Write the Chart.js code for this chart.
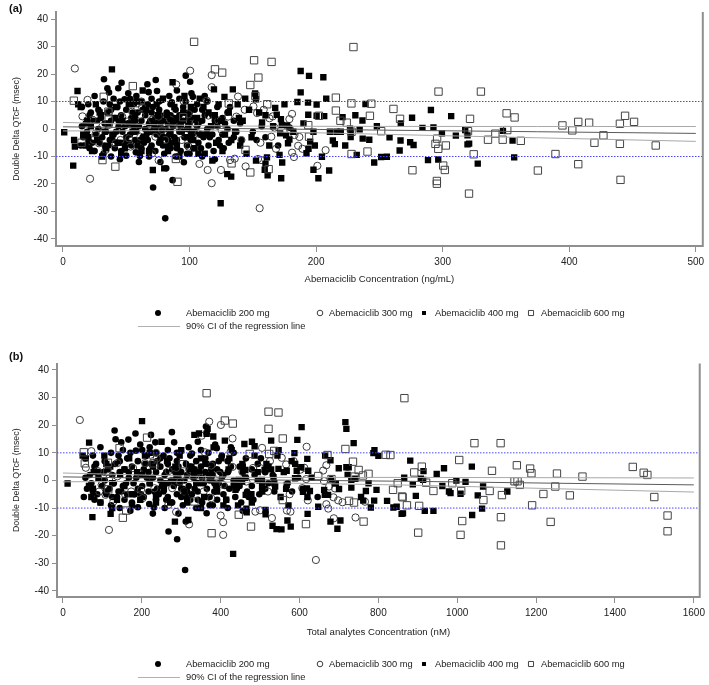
<!DOCTYPE html>
<html>
<head>
<meta charset="utf-8">
<script src="https://cdn.jsdelivr.net/npm/chart.js@4.4.1/dist/chart.umd.min.js"></script>
<style>
  html, body { margin: 0; padding: 0; background: #fff; }
  body { width: 709px; height: 685px; position: relative; overflow: hidden; font-family: "Liberation Sans", Arial, sans-serif; }
  .panel { position: absolute; left: 0; width: 709px; height: 340px; }
  .tag { position: absolute; font-weight: bold; font-size: 11px; color: #111; }
</style>
</head>
<body>
<div class="panel" style="top:0"><canvas id="chartA"></canvas></div>
<div class="panel" style="top:345px"><canvas id="chartB"></canvas></div>
<div class="tag" style="left:9px;top:2px">(a)</div>
<div class="tag" style="left:9px;top:350px">(b)</div>
<script>
// ---- shared ticks / labels ----
const yTicks = [-40, -30, -20, -10, 0, 10, 20, 30, 40];
const xTicksA = [0, 100, 200, 300, 400, 500];
const xTicksB = [0, 200, 400, 600, 800, 1000, 1200, 1400, 1600];
const legendNames = ['Abemaciclib 200 mg', 'Abemaciclib 300 mg', 'Abemaciclib 400 mg', 'Abemaciclib 600 mg'];
const ciLabel = '90% CI of the regression line';
const refLevels = [10, -10];

// ---- panel (a): Abemaciclib concentration (ng/mL) vs ddQTcF ----
const a200 = [
  [15,8],[15,1],[16,-3],[14,-6],[20,9],[21,5],[19,-1],[20,-4],[21,-7],[25,12],[24,3],[26,-2],[25,-8],
  [28,7],[28,0],[29,-5],[32.4,18.1],[32,10],[33,2],[31,-3],[32,-9],[35.1,14.8],[35,6],[34,-1],[36,-6],
  [36.4,13.3],[37,9],[38,3],[37,-4],[38,-10],[40,11],[41,4],[40,-2],[41,-7],[43.7,14.8],[43,8],[44,1],[43,-5],
  [46.3,16.8],[48.7,10.8],[46,5],[47,-1],[46,-8],[51.6,13],[50,7],[51,2],[50,-3],[50,-9.7],[53,11],[54,4],[53,-2],[54,-6],
  [56,9],[56,1],[57,-4],[57.6,-8.5],[58,12],[59,6],[58,-1],[60.8,-9.8],[62,10],[62,3],[63,-3],[62,-7],
  [65,8],[65,5],[65,0],[64,-5],[66.7,16.3],[67.7,13.4],[67,9],[68,2],[67,-4],[68,-10],
  [70,11],[70,6],[70,-1],[70,-6],[71.2,-21.3],[73.3,17.8],[74.3,13.8],[73,4],[74,-2],[73,-8],
  [76,10],[76,7],[77,1],[76,-5],[77,-12],[78.7,10.6],[79,3],[79,-3],[80,-9],[81.6,-14.3],
  [80.8,-32.5],[82,6],[81,0],[82,-6],[84,12],[84,4],[84,-2],[85,-7],[86,9.7],[87,1],[86,-5],[86.6,-18.6],
  [89,7],[89,2],[90,-4],[89,-10],[92,11],[92,5],[92,-1],[93,-8],[95,8],[95,3],[96,-3],[95.5,-12.1],
  [97,19.4],[97,10],[98,0],[98,-6],[100.5,17.2],[101.5,13],[100,6],[100,2],[101,-4],[100,-9],
  [102.6,11.7],[103,4],[104,-1],[103,-7],[106,9],[106,1],[107,-5],[110,7],[110,3],[111,-3],[110,-10],
  [114,10],[114,0],[115,-6],[118,5],[118,-2],[119,-8],[122,8],[122,1],[123,-4],[126,4],[126,-2],[127,-7],
  [130,6],[130,0],[131,-5],[135,3],[135,-3],[140,2],[141,-4],[150,-1],[153,-4],[157,1],[160,-3],[170,-6],[179,0.5],
  [75,3],[78,-1],[83,2],[88,-3],[91,3],[94,-1],[99,4],[102,-2],[105,3],[108,-2],[85,5],[80,-3],[72,0],[69,3],
  [60,1],[55,6],[48,-5],[44,3],[39,-4],[30,4],[23,-5],[18,2],
  [22,6],[27,3],[33,-6],[38,7],[42,-1],[45,10],[49,1],[52,-5],[57,3],[61,-4],[63,7],[66,-2],[69,-7],[71,8],
  [74,0],[77,5],[79,-6],[83,-4],[85,9],[88,4],[90,-7],[93,1],[96,6],[98,-9],[101,-1],[104,7],[107,2],[109,-7],
  [112,5],[116,-3],[120,3],[124,-6],[128,2],[132,8],[137,-1],[112,12],[90,14],[60,-12],[45,-11],[120,-11]
];
const a300 = [
  [9.4,22],[21.4,-18.1],[19.4,10.6],[15.4,4.6],[23.3,3.4],[25.9,-1.6],[28.5,-5.2],[24.1,-4],[36.4,6.3],
  [62,10],[61.2,-2.8],[53.4,-6.4],[75.6,-11.4],[70.4,-8.9],[100.5,21.2],[89.5,16.2],[95.2,10.2],[99.2,5.4],
  [104.4,2.1],[107.1,-1.6],[99.2,-6.4],[107.8,-12.7],[114.3,-14.9],[117.5,-19.7],[124.8,-14.9],[117.5,19.6],
  [117.5,15.2],[113.6,10.3],[114.9,4.9],[122.7,3.1],[125.3,-0.4],[130.5,4.5],[137,4.5],[138.3,11.8],[143.6,7],
  [141,-4],[135.7,-10.8],[144.3,-13.6],[132,-11.3],[46.8,4.5],[50.8,2.7],[54.7,6.3],[58.6,9.3],[62.5,8],[61.2,5.1],
  [70.4,3.4],[75.6,4.5],[78.2,-0.4],[80.8,-4],[73,-2.8],[84.7,3.4],[91.3,0.9],[93.9,-4],[33.7,-7.6],[41.6,-5.2],
  [45.5,-4],[52.1,-3.4],[36.4,1.5],[31.1,0.9],[150.5,8.2],[153.4,5.8],[158.6,7],[163.1,3.9],[165.7,4.6],[167.2,0.5],
  [164.6,-2.8],[168.3,-7.2],[156,-5],[154.1,-10.9],[156.5,-11.3],[178.9,3.6],[181,5.5],[179.4,-0.2],[182.9,-2.2],
  [186.8,-2.9],[185.8,-6.1],[189.2,-7.2],[181,-8.6],[182.5,-10.2],[207.5,-7.7],[201,-13.4],[155.4,-28.8]
];
const a400 = [
  [1,-1.2],[8.1,-13.3],[9.4,-6.4],[8.8,-4],[11.5,13.8],[12,9],[14,8],[16,-2],[18,-6],[19,3],[22,1],[23,-8],
  [26,9],[27,-4],[30,5],[31,-10],[34,-7],[38.7,21.7],[36,2],[39,-2],[42,8],[44,-5],[47,3],[49,-7],[52,9],[55,-1],
  [57,5],[59,-6],[63,14],[64,-3],[66,7],[68,-8],[71,-14.9],[72,2],[74,9],[77,-4],[80,-14.3],[82,5],[85,-1],
  [86.6,17],[88,8],[90,-6],[93,2],[96,12],[98,-3],[101,8],[104,-7],[106,4],[108,11],[110,-2],[112,-9],[115,6],
  [117,1],[118,-11.5],[119.3,14.4],[121,-5],[123,9],[124.6,-27],[125,3],[127.6,11.7],[128,-2],[129.8,-16.4],
  [131,6],[132.9,-17.3],[134.2,14.4],[136,-1],[138,9],[140,-6],[142,3],[145,-9],[147,7],
  [152.5,-11.5],[151.8,12.9],[152.5,10.8],[157.3,2.4],[160,5],[159.4,-14.8],[160,-12.6],[161.2,-10.3],[161.7,-16.8],
  [167.7,7.7],[168.9,5.2],[171.1,-9.4],[171.6,-1.6],[172.2,3.6],[172.4,-17.9],[172.9,1.5],[173.2,-12.2],[176.3,-2.3],
  [177.1,1.3],[177.8,-5.2],[178.9,-3.8],[185.2,9.8],[187.8,21.1],[187.8,13.3],[192.4,-8.8],[193.6,9.6],[193.8,5.2],
  [194,-7.2],[194.4,19.3],[195.3,-4.6],[197.9,-1],[197.9,-14.8],[200.4,8.9],[200.4,4.8],[201.8,-17.9],[204.6,-10.1],
  [205.7,18.8],[206.4,4.7],[210.3,-15.1],[210.9,-1],[213.2,-4.2],[214.8,-5.5],[216.1,-1],[219.5,-1],[220.9,4.3],
  [226.8,0.1],[227.3,-1.1],[227.3,-2.9],[232.1,-9.4],[234.4,-0.1],[236.6,3.1],[236.8,-3.5],[239,9.1],[242,-3.9],
  [245.9,-12.2],[251.4,-10.2],[255.9,-10.1],[266,-7.8],[266.7,-4.2],[266.9,2],[274.3,-4.8],[275.8,4.1],[277,-5.8],
  [284,0.4],[288.4,-11.3],[290.7,6.9],[292.7,0.6],[296.5,-11.1],[299.4,-1.6],[306.7,4.7],[310.4,-2.4],[317.8,-0.4],
  [319.6,-2.3],[319.6,-5.6],[320.9,-5.3],[327.7,-12.6],[347.6,-0.7],[355.2,-4.2],[356.5,-10.3],
  [20,-3],[29,6],[33,-1],[41,4],[46,-9],[53,2],[58,10],[62,-8],[67,-1],[75,5],[79,11],[83,-8],[87,3],[92,-10],
  [95,6],[99,1],[103,-4],[107,-9],[111,8],[114,-2],[120,5],[126,-8],[133,-4],[139,4],[144,11],[149,-3],[155,6],
  [163,-6],[166,1],[175,9],[182,-1],[190,2],[199,-6],[208,11],[223,-6],[231,5],[248,1],[258,-3]
];
const a600 = [
  [8.6,10.3],[14.7,-5],[32.2,11.7],[35.9,6.3],[31.2,-11.3],[41.4,-13.7],[36.1,3.4],[55.2,15.6],[89.2,-10.9],
  [90.5,-19.2],[95,4.3],[103.6,31.7],[120.1,21.7],[125.8,20.5],[131,9.3],[133.2,-12.5],[144.2,-7.6],[148,16],
  [151,25],[152,12],[154.4,18.7],[164.8,24.4],[161.4,9],[162.5,-14.6],[148,-15.8],[193.8,1.4],[194.4,-2.8],
  [202.2,4.8],[215.6,11.4],[215.6,6.7],[219.2,3],[224.2,2.3],[227.9,9.3],[228,-1],[228,-9.1],[229.5,29.8],
  [240.6,-8.2],[242.5,4.8],[243.6,9.2],[251.4,-0.8],[261.1,7.3],[266.3,3.7],[276.1,-15],[294.3,-5.4],[295.4,-18.9],
  [295.4,-19.9],[295.6,-3.5],[296.5,-7.2],[296.7,13.6],[300.4,-13.3],[301.7,-14.9],[302.5,-6],[320,-0.8],
  [320.8,-23.5],[321.6,3.7],[324.5,-9.2],[330.2,13.6],[335.8,-3.9],[341.6,-1.7],[347.4,-3.9],[350.5,5.7],
  [351,-0.4],[356.8,4.2],[361.7,-4.3],[375.2,-15.1],[389.1,-9.1],[394.6,1.3],[402.4,-0.5],[407.1,2.6],
  [407.1,-12.8],[415.7,2.3],[419.9,-5],[427,-2.3],[440,1.9],[440,-5.4],[440.5,-18.5],[444.1,4.8],[451.2,2.6],[468.3,-6]
];
const regXA = [0, 100, 150, 250, 375, 500];
const regMidA = [0.8, 0.3, 0.1, -0.4, -1.0, -1.6];
const ciUpA = [2.4, 1.3, 1.05, 0.95, 0.9, 0.9];
const ciLoA = [-0.7, -0.6, -0.9, -1.9, -3.2, -4.5];

// ---- panel (b): total analytes concentration (nM) vs ddQTcF ----
const b200 = [
  [57,8],[57,1],[61,-3],[53,-6],[76,9],[80,5],[72,-1],[76,-4],[80,-7],[95,12],[91,3],[99,-2],[95,-8],
  [106,7],[106,0],[110,-5],[131,18.1],[122,10],[125,2],[118,-3],[122,-9],[133.5,14.9],[133,6],[129,-1],[137,-6],
  [147.8,13.8],[141,9],[144,3],[141,-4],[144,-10],[152,11],[156,4],[152,-2],[156,-7],[166,14.8],[163,8],[167,1],[163,-5],
  [183.9,17],[185,10.8],[175,5],[179,-1],[175,-8],[196,13],[190,7],[194,2],[190,-3],[190,-9.7],[201,11],[205,4],[201,-2],[205,-6],
  [213,9],[213,1],[217,-4],[219,-8.5],[220,12],[224,6],[220,-1],[231,-9.8],[236,10],[236,3],[239,-3],[236,-7],
  [247,8],[247,5],[247,0],[243,-5],[223.3,16.5],[234.3,13.8],[255,9],[258,2],[255,-4],[258,-10],
  [266,11],[266,6],[266,-1],[266,-6],[289.6,-21.3],[276.3,17.5],[282,13.8],[277,4],[281,-2],[277,-8],
  [289,10],[289,7],[293,1],[289,-5],[293,-12],[299,10.6],[300,3],[300,-3],[304,-9],[311.5,-14.9],
  [309.8,-32.4],[312,6],[308,0],[312,-6],[319,12],[319,4],[319,-2],[323,-7],[327,9.7],[331,1],[327,-5],[267.8,-18.5],
  [338,7],[338,2],[342,-4],[338,-10],[350,11],[350,5],[350,-1],[353,-8],[361,8],[361,3],[365,-3],[364.4,-11.9],
  [362.7,19.5],[369,10],[372,0],[372,-6],[364.4,17.1],[386,13],[380,6],[380,2],[384,-4],[380,-9],
  [390,11.7],[391,4],[395,-1],[391,-7],[403,9],[403,1],[407,-5],[418,7],[418,3],[422,-3],[418,-10],
  [433,10],[433,0],[437,-6],[448,5],[448,-2],[452,-8],[464,8],[464,1],[467,-4],[479,4],[479,-2],[483,-7],
  [494,6],[494,0],[498,-5],[513,3],[513,-3],[532,2],[536,-4],[570,-1],[581,-4],[597,1],[608,-3],[646,-6],[680,0.5],
  [285,3],[296,-1],[315,2],[334,-3],[346,3],[357,-1],[376,4],[388,-2],[399,3],[410,-2],[323,5],[304,-3],[274,0],[262,3],
  [228,1],[209,6],[182,-5],[167,3],[148,-4],[114,4],[87,-5],[68,2],
  [84,6],[103,3],[125,-6],[144,7],[160,-1],[171,10],[186,1],[198,-5],[217,3],[232,-4],[239,7],[251,-2],[262,-7],[270,8],
  [281,0],[293,5],[300,-6],[315,-4],[323,9],[334,4],[342,-7],[353,1],[365,6],[372,-9],[384,-1],[395,7],[407,2],[414,-7],
  [426,5],[441,-3],[456,3],[471,-6],[486,2],[502,8],[521,-1],[426,12],[342,14],[228,-12],[171,-11],[456,-11]
];
const b300 = [
  [42.8,21.9],[116.7,-17.9],[72,10.6],[58,4.6],[88,3.4],[98,-1.6],[108,-5.2],[92,-4],[138,6.3],
  [236,10],[232,-2.8],[202,-6.4],[287,-11.4],[267,-8.9],[371,21.3],[351.8,16.2],[360,10.2],[376,5.4],
  [396,2.1],[406,-1.6],[376,-6.4],[400,-12.7],[319.9,-15.9],[406.4,-19.7],[406.4,-15.1],[400.5,20.1],
  [430,15.2],[425,10.3],[430,4.9],[455,3.1],[465,-0.4],[482,4.5],[500,4.5],[505,11.8],[525,7],
  [520,-4],[500,-10.8],[530,-13.6],[488,-11.3],[178,4.5],[193,2.7],[208,6.3],[222,9.3],[238,8],[233,5.1],
  [268,3.4],[287,4.5],[297,-0.4],[307,-4],[277,-2.8],[322,3.4],[347,0.9],[357,-4],[128,-7.6],[158,-5.2],
  [173,-4],[198,-3.4],[138,1.5],[118,0.9],[555,8.2],[566,5.8],[585,7],[602,3.9],[612,4.6],[617,0.5],
  [607,-2.8],[621,-7.2],[575,-5],[568,-10.9],[577,-11.3],[660,3.6],[668,5.5],[662,-0.2],[675,-2.2],
  [690,-2.9],[686,-6.1],[698,-7.2],[668,-8.6],[673,-10.2],[766,-7.7],[742,-13.4],[641.5,-28.8],
  [618,12.2],[709,-7.9],[687,-13.7]
];
const b400 = [
  [11.8,-1.1],[74.7,-13.3],[66.3,13.7],[120.9,-12.1],[200.6,21.5],[333.3,16.5],[364.4,16.9],[366.9,18.7],
  [381.2,15.9],[410.6,14.4],[431.6,-26.6],
  [50,9],[58,8],[66,-2],[72,-6],[78,3],[90,1],[95,-8],[105,9],[110,-4],[120,5],[125,-10],[137,-7],[145,2],
  [156,-2],[168,8],[176,-5],[188,3],[196,-7],[208,9],[220,-1],[228,5],[236,-6],[250,14],[256,-3],[264,7],
  [272,-8],[284,-14.9],[288,2],[296,9],[308,-4],[318,-14.3],[326,5],[338,-1],[345,17],[350,8],[358,-6],
  [370,2],[382,12],[390,-3],[402,8],[414,-7],[420,4],[428,11],[436,-2],[444,-9],[455,6],[462,1],[466,-11.5],
  [478,-5],[486,9],[494,3],[505,-2],[516,6],[528,14.4],[536,-1],[544,9],[552,-6],[560,3],[572,-9],[580,7],
  [605.3,19.3],[716.3,21.1],[718.8,18.7],[594.4,14.7],[737.3,13.5],[460.1,13.2],[479.4,14],[486.1,12.4],
  [587,9.9],[619.7,7.8],[678.5,7.3],[787.4,9.9],[800,8.9],[699.5,4.4],[718.8,4.8],[724.7,4.8],[604.5,4.8],
  [622.1,3.5],[567.5,3.5],[546.6,4.2],[592.8,3.5],[567.5,-1.6],[608.7,-4.1],[618.8,-2.9],[626.3,-3.8],
  [662.4,-3.4],[664.1,-5.2],[672.5,-5.2],[700.2,-3.1],[689.4,-1],[731.4,0.2],[731.4,-2.6],[741.5,0.6],
  [775,-1],[795.2,-3.4],[768.3,-3.8],[761.6,-7.3],[789.3,-7.3],[822,-7.4],[780.9,-9.8],[838,-9.8],[846.4,-9.5],
  [862.4,-11.9],[647.4,-9.5],[620.5,-12.1],[678.5,-14.9],[703.7,-14.5],[696.1,-17.5],[531.5,-16.4],
  [541.6,-17.6],[554.2,-17.7],[569.3,-14.5],[577.7,-16.7],[513.9,-12.3],[513.9,-10.7],[465.2,-10.2],
  [588.7,0.8],[462.6,3.8],[445.9,0.2],[454.3,-0.4],[437.5,-3.4],[463.5,-5.2],[504.6,0.2],[511.3,3.8],
  [521.4,5.1],[534,1.2],[538.2,-2.2],
  [880.8,7.2],[914.4,3.4],[907.6,0.6],[913.5,0.2],[887.3,-1.4],[865.5,1],[947.9,2.4],[966.4,4.4],[962.2,-2],
  [979,-4],[983,-4.6],[997.8,0],[1008.4,-4.8],[1021,-0.5],[1037,5],[1052,-5.4],[1065.5,-2.2],[1127,-4],
  [1037.8,-12.5],[1063,-10.2],[895,-5.6],[858.9,-12.1],[917.7,-11],[939.6,-11],
  [76,-3],[110,6],[125,-1],[156,4],[175,-9],[201,2],[220,10],[236,-8],[255,-1],[285,5],[300,11],[315,-8],
  [331,3],[350,-10],[361,6],[376,1],[391,-4],[407,-9],[422,8],[433,-2],[456,5],[479,-8],[505,-4],[528,4],
  [547,11],[566,-3],[589,6],[620,-6],[631,1],[665,9],[692,-1],[722,2],[756,-6],[790,11]
];
const b600 = [
  [52.9,10.2],[55.4,6.2],[114,6.4],[112.5,3.2],[115,-3.2],[143.6,11.7],[151.9,-13.5],[160.4,-10.9],[213.3,15.5],
  [230,6.2],[304,5.9],[333.3,-7.6],[364.4,31.6],[377,-19.1],[410.6,21.7],[430.7,20.6],
  [445.9,-12.4],[477,-16.7],[473.6,9.6],[521.4,24.9],[546.6,24.6],[521.4,18.7],[557.5,15.2],[535.7,10.7],
  [523.1,9.6],[557.5,-7.1],[616.3,-15.8],[647.4,1.6],[670.9,9.2],[681,0.5],[716.3,11.4],[735.6,6.8],[739.8,1.4],
  [749.9,3.8],[760.8,1.8],[775,2.4],[762.5,-14.9],[725.6,-7.4],[738.2,-8],[818.8,9.3],[830.5,9.2],[837.2,-3.4],
  [849,-1],[860,-5.8],[866,29.8],
  [861.5,-6.1],[872.4,-9],[901,-18.9],[903.4,-9.2],[890.9,2.9],[910.2,5],[921.1,-0.8],[939.6,-3.8],[987.4,-1],
  [1005,7.4],[1010,-3.8],[1012.6,-14.7],[1008.4,-19.7],[1043.6,13.5],[1066.3,-7.1],[1088.1,3.5],[1082.2,-3.8],
  [1110,13.5],[1113.3,-5.3],[1110.8,-13.3],[1110.8,-23.5],[1145.3,-0.3],[1152.9,-0.3],[1158.7,-1.6],
  [1151.2,5.5],[1184.8,4.3],[1188.2,2.6],[1189.9,-9],[1218.5,-4.9],[1236.9,-15],[1248.7,-2.2],[1252.9,2.5],
  [1285.6,-5.4],[1317.6,1.4],[1445.2,4.9],[1472.9,2.8],[1482.2,2],[1499.8,-6],[1533.4,-12.7],[1533.4,-18.4]
];
const regXB = [0, 250, 500, 875, 1250, 1600];
const regMidB = [1.3, 0.8, 0.2, -0.3, -1.0, -1.6];
const ciUpB = [2.7, 1.8, 1.1, 1.1, 1.0, 0.9];
const ciLoB = [-0.5, -0.3, -0.8, -1.7, -3.0, -4.2];

// ---- styling ----
const FONT = '"Liberation Sans", Arial, sans-serif';
const axisGray = '#8f8f8f';
const textCol = '#222';
Chart.defaults.font.family = FONT;

const pairs = arr => arr.map(([x, y]) => ({ x, y }));
const zipXY = (xs, ys) => xs.map((x, i) => ({ x, y: ys[i] }));

const markerStyles = [
  { pointStyle: 'circle', pointRadius: 3.3, backgroundColor: '#000', borderColor: '#000', borderWidth: 0, legendR: 3 },
  { pointStyle: 'circle', pointRadius: 3.6, backgroundColor: 'rgba(0,0,0,0)', borderColor: '#3c3c3c', borderWidth: 1, legendR: 2.8 },
  { pointStyle: 'rect', pointRadius: 4.5, backgroundColor: '#000', borderColor: '#000', borderWidth: 0, legendR: 2.8 },
  { pointStyle: 'rect', pointRadius: 5.2, backgroundColor: 'rgba(0,0,0,0)', borderColor: '#444', borderWidth: 1, legendR: 3.6 }
];
const legendMarkX = [158, 320, 424, 531];
const legendTextX = [186, 329, 435, 541];

// right frame line + two-row legend under the axis
const frameLegend = {
  id: 'frameLegend',
  afterDraw(chart) {
    const { ctx, chartArea: ca } = chart;
    ctx.save();
    ctx.strokeStyle = axisGray;
    ctx.lineWidth = 2;
    ctx.beginPath();
    ctx.moveTo(ca.right, ca.top);
    ctx.lineTo(ca.right, ca.bottom + 1);
    ctx.stroke();

    const y1 = ca.bottom + 67, y2 = ca.bottom + 80.5;
    ctx.font = '9.3px ' + FONT;
    ctx.textBaseline = 'middle';
    ctx.textAlign = 'left';
    legendNames.forEach((name, i) => {
      const m = markerStyles[i];
      ctx.fillStyle = m.backgroundColor;
      ctx.strokeStyle = m.borderColor;
      ctx.lineWidth = m.borderWidth || 1;
      Chart.helpers.drawPoint(ctx, { pointStyle: m.pointStyle, radius: m.legendR, borderWidth: m.borderWidth, rotation: 0 }, legendMarkX[i], y1);
      ctx.fillStyle = textCol;
      ctx.fillText(name, legendTextX[i], y1);
    });
    ctx.strokeStyle = '#b0b0b0';
    ctx.lineWidth = 1;
    ctx.beginPath();
    ctx.moveTo(138, y2);
    ctx.lineTo(180, y2);
    ctx.stroke();
    ctx.fillStyle = textCol;
    ctx.fillText(ciLabel, 186, y2);
    ctx.restore();
  }
};

function makeChart(id, cfg) {
  const groups = [cfg.g200, cfg.g300, cfg.g400, cfg.g600];
  const datasets = [];
  // reference lines at +/-10 msec
  refLevels.forEach(level => {
    datasets.push({
      type: 'line', data: [{ x: cfg.xMin, y: level }, { x: cfg.xMax, y: level }],
      borderColor: '#4646ff', borderWidth: 1, borderDash: [1.5, 1.5], pointRadius: 0, order: 0
    });
  });
  // regression line and its 90% CI
  datasets.push({ type: 'line', data: zipXY(cfg.regX, cfg.regMid), borderColor: '#5a5a5a', borderWidth: 1, pointRadius: 0, order: 0 });
  [cfg.ciUp, cfg.ciLo].forEach(ci => {
    datasets.push({ type: 'line', data: zipXY(cfg.regX, ci), borderColor: '#a8a8a8', borderWidth: 1, pointRadius: 0,
      cubicInterpolationMode: 'monotone', order: 0 });
  });
  groups.forEach((g, i) => {
    const m = markerStyles[i];
    datasets.push({
      type: 'scatter', label: legendNames[i], data: pairs(g),
      pointStyle: m.pointStyle, pointRadius: m.pointRadius,
      backgroundColor: m.backgroundColor, borderColor: m.borderColor, borderWidth: m.borderWidth,
      order: 4 - i
    });
  });

  return new Chart(document.getElementById(id), {
    type: 'scatter',
    data: { datasets },
    plugins: [frameLegend],
    options: {
      responsive: true,
      maintainAspectRatio: false,
      animation: false,
      events: [],
      layout: { padding: cfg.padding },
      plugins: { legend: { display: false }, tooltip: { enabled: false } },
      scales: {
        x: {
          type: 'linear', min: cfg.xMin, max: cfg.xMax,
          afterBuildTicks: s => { s.ticks = cfg.xTicks.map(v => ({ value: v })); },
          afterFit: s => { s.height = 44; },
          grid: { drawOnChartArea: false, drawTicks: true, tickLength: 6, color: axisGray, lineWidth: 1 },
          border: { display: true, color: axisGray, width: 2 },
          ticks: { autoSkip: false, maxRotation: 0, padding: 4, color: textCol, font: { size: 10 }, callback: v => String(v) },
          title: { display: true, text: cfg.xTitle, color: textCol, font: { size: 9.6 }, padding: { top: 0, bottom: cfg.xTitlePad } }
        },
        y: {
          type: 'linear', min: cfg.yMin, max: cfg.yMax,
          afterBuildTicks: s => { s.ticks = yTicks.map(v => ({ value: v })); },
          afterFit: s => { s.width = cfg.yWidth; },
          grid: { drawOnChartArea: false, drawTicks: true, tickLength: 5, color: axisGray, lineWidth: 1 },
          border: { display: true, color: axisGray, width: 2 },
          ticks: { autoSkip: false, padding: 3, color: textCol, font: { size: 10 }, callback: v => String(v) },
          title: { display: true, text: 'Double Delta QTcF (msec)', color: textCol, font: { size: 8.8 }, padding: { top: 11.7, bottom: 0 } }
        }
      }
    }
  });
}

makeChart('chartA', {
  g200: a200, g300: a300, g400: a400, g600: a600,
  regX: regXA, regMid: regMidA, ciUp: ciUpA, ciLo: ciLoA,
  xMin: -5.5, xMax: 505.5, yMin: -42.55, yMax: 42.55, xTicks: xTicksA,
  xTitle: 'Abemaciclib Concentration (ng/mL)', xTitlePad: 5.2, yWidth: 56,
  padding: { left: 0, right: 2, top: 12, bottom: 50 }
});

makeChart('chartB', {
  g200: b200, g300: b300, g400: b400, g600: b600,
  regX: regXB, regMid: regMidB, ciUp: ciUpB, ciLo: ciLoB,
  xMin: -15.1, xMax: 1615, yMin: -42.2, yMax: 42.35, xTicks: xTicksB,
  xTitle: 'Total analytes Concentration (nM)', xTitlePad: 3.2, yWidth: 57,
  padding: { left: 0, right: 4, top: 18.5, bottom: 44 }
});
</script>
</body>
</html>
